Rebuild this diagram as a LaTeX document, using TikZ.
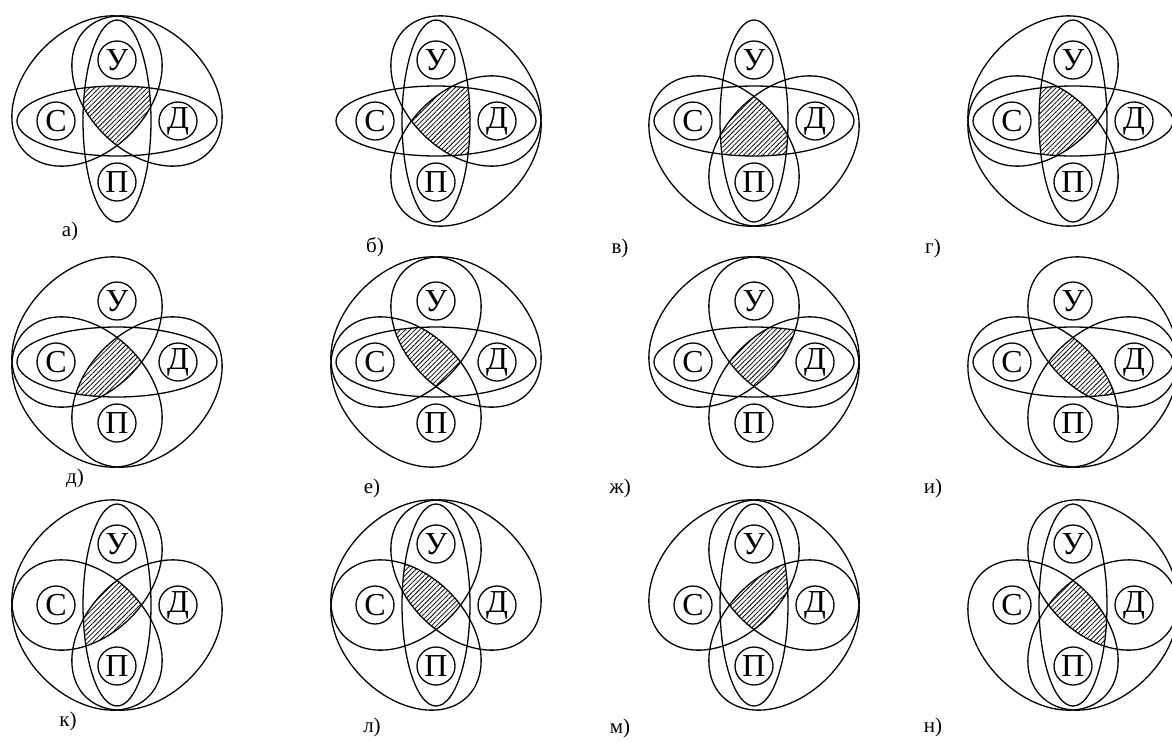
\documentclass[tikz,border=0pt]{standalone}
\usepackage{fontspec}
\setmainfont{Liberation Serif}
\usetikzlibrary{patterns.meta}
\tikzset{
  setline/.style={line width=0.65pt},
  lbl/.style={circle, draw, line width=0.65pt, minimum size=19pt, inner sep=0pt, font=\fontsize{16}{16}\selectfont},
  capt/.style={font=\fontsize{10.5}{12}\selectfont, inner sep=0pt},
  hatch/.style={pattern={Lines[angle=45,distance=1.7pt,line width=0.38pt]}}
}
\newcommand\EllUP[2]{#1[#2] (0,0) ellipse [x radius=17pt, y radius=50.5pt];}
\newcommand\EllSD[2]{#1[#2] (0,0) ellipse [x radius=50pt, y radius=17.5pt];}
\newcommand\EllSU[2]{#1[#2,rotate around={45:(-30,-30)}] (-30,-30) ellipse [x radius=43.5pt, y radius=30.5pt];}
\newcommand\EllUD[2]{#1[#2,rotate around={-45:(30,-30)}] (30,-30) ellipse [x radius=43.5pt, y radius=30.5pt];}
\newcommand\EllSP[2]{#1[#2,rotate around={-45:(-30,30)}] (-30,30) ellipse [x radius=43.5pt, y radius=30.5pt];}
\newcommand\EllDP[2]{#1[#2,rotate around={45:(30,30)}] (30,30) ellipse [x radius=43.5pt, y radius=30.5pt];}
\newcommand\Diagram[7]{%
\begin{scope}[shift={(#2,#3)}]
  \begin{scope}
    \csname Ell#4\endcsname{\clip}{}
    \csname Ell#5\endcsname{\clip}{}
    \csname Ell#6\endcsname{\clip}{}
    \csname Ell#7\endcsname{\path}{hatch}
  \end{scope}
  \csname Ell#4\endcsname{\draw}{setline}
  \csname Ell#5\endcsname{\draw}{setline}
  \csname Ell#6\endcsname{\draw}{setline}
  \csname Ell#7\endcsname{\draw}{setline}
  \node[lbl] (#1-U) at (0,-61) {У};
  \node[lbl] (#1-S) at (-61,0) {С};
  \node[lbl] (#1-D) at (61,0) {Д};
  \node[lbl] (#1-P) at (0,61) {П};
\end{scope}}
\begin{document}
\begin{tikzpicture}[x=0.5pt,y=-0.5pt]
\useasboundingbox (0,0) rectangle (1172,740);
\Diagram{a}{117}{121}{UP}{SD}{SU}{UD}
\Diagram{b}{436}{121}{UP}{SD}{UD}{DP}
\Diagram{v}{754}{121}{UP}{SD}{SP}{DP}
\Diagram{g}{1073}{121}{UP}{SD}{SU}{SP}
\Diagram{d}{117}{362}{SD}{SU}{SP}{DP}
\Diagram{e}{436}{362}{SD}{SU}{UD}{SP}
\Diagram{zh}{754}{362}{SD}{SU}{UD}{DP}
\Diagram{i}{1073}{362}{SD}{UD}{SP}{DP}
\Diagram{k}{117}{605}{UP}{SU}{SP}{DP}
\Diagram{l}{436}{605}{UP}{SU}{UD}{SP}
\Diagram{m}{754}{605}{UP}{SU}{UD}{DP}
\Diagram{n}{1073}{605}{UP}{UD}{SP}{DP}
\node[capt] (ca) at (70,231) {а)};
\node[capt] (cb) at (375,247) {б)};
\node[capt] (cv) at (620,248) {в)};
\node[capt] (cg) at (933,248) {г)};
\node[capt] (cd) at (75,478) {д)};
\node[capt] (ce) at (372,488) {е)};
\node[capt] (czh) at (620,488) {ж)};
\node[capt] (ci) at (933,488) {и)};
\node[capt] (ck) at (68,721) {к)};
\node[capt] (cl) at (372,727) {л)};
\node[capt] (cm) at (620,728) {м)};
\node[capt] (cn) at (933,727) {н)};
\end{tikzpicture}
\end{document}
